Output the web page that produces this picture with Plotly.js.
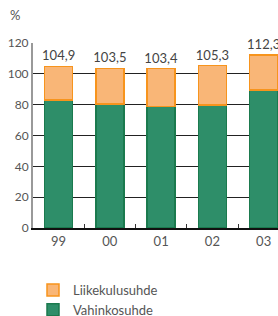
<!DOCTYPE html>
<html><head><meta charset="utf-8">
<script src="https://cdn.plot.ly/plotly-3.0.1.min.js"></script>
<style>html,body{margin:0;padding:0;background:#fff;overflow:hidden}</style>
</head><body><div id="chart" style="width:278px;height:316px"></div>
<script>
const years = ["99", "00", "01", "02", "03"];
const vahinkosuhde = [83.1, 80.5, 78.8, 79.9, 89.6];
const totals = [104.9, 103.5, 103.4, 105.3, 112.3];
const liikekulusuhde = totals.map((t, i) => +(t - vahinkosuhde[i]).toFixed(1));
const totalLabels = totals.map(t => t.toFixed(1).replace('.', ','));

const font = {family: "Lato, 'Open Sans', sans-serif", size: 12, color: "#555"};

const traces = [
  {type: "bar", name: "Vahinkosuhde", x: years, y: vahinkosuhde,
   marker: {color: "#2E8E69", line: {color: "#1B7A4E", width: 1.5}}, hoverinfo: "none"},
  {type: "bar", name: "Liikekulusuhde", x: years, y: liikekulusuhde,
   marker: {color: "#F9B677", line: {color: "#F7941D", width: 1.5}},
   text: totalLabels, textposition: "outside", constraintext: "none", cliponaxis: false,
   textfont: {family: font.family, size: 13, color: "#444"}, hoverinfo: "none"}
];

const layout = {
  width: 278, height: 316,
  margin: {l: 33, r: 0, t: 43, b: 88, autoexpand: false},
  barmode: "stack", bargap: 0.45,
  paper_bgcolor: "#fff", plot_bgcolor: "#fff",
  font: font,
  showlegend: true,
  legend: {x: 0, y: -0.254, xanchor: "left", yanchor: "top",
           font: {family: font.family, size: 13, color: "#555"}, tracegroupgap: 0, itemwidth: 30},
  xaxis: {type: "category", range: [-0.5, 4.28], showline: true, linecolor: "#111", linewidth: 2,
          ticks: "inside", tickson: "boundaries", ticklen: 4, tickcolor: "#333", showgrid: false,
          tickangle: 0, automargin: false,
          tickfont: {family: font.family, size: 13, color: "#555"}, fixedrange: true},
  yaxis: {range: [0, 120], tickvals: [0, 20, 40, 60, 80, 100, 120], showgrid: true, gridcolor: "#222", gridwidth: 1,
          showline: true, linecolor: "#999", linewidth: 2, zeroline: false, ticks: "", automargin: false,
          tickfont: {family: font.family, size: 12, color: "#555"}, fixedrange: true},
  annotations: [{text: "%", xref: "paper", yref: "paper", x: -0.073, y: 1.151, xanchor: "center", yanchor: "middle",
                 showarrow: false, font: {family: font.family, size: 13, color: "#555"}}]
};

Plotly.newPlot("chart", traces, layout, {staticPlot: true, displayModeBar: false});
</script></body></html>
